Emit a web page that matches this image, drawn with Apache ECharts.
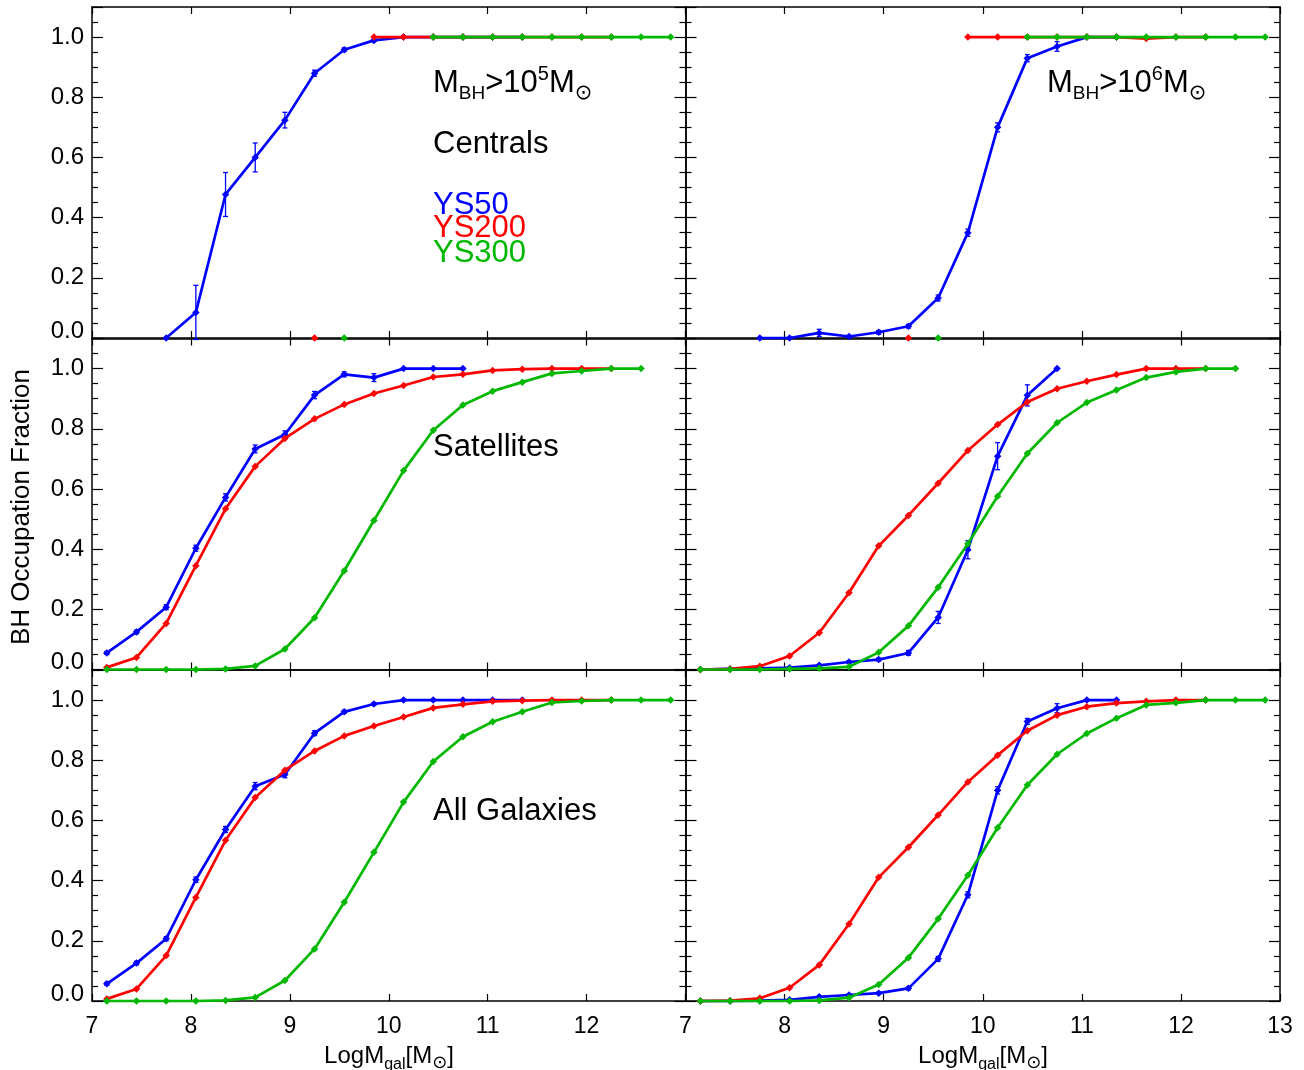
<!DOCTYPE html>
<html>
<head>
<meta charset="utf-8">
<script src="https://cdn.jsdelivr.net/npm/echarts@6/dist/echarts.min.js"></script>
<style>
html,body{margin:0;padding:0;background:#fff;}
#chart{width:1304px;height:1070px;}
</style>
</head>
<body>
<div id="chart"></div>
<script>
// ---------------- DATA ----------------
const logMgal = [7.15,7.45,7.75,8.05,8.35,8.65,8.95,9.25,9.55,9.85,10.15,10.45,10.75,11.05,11.35,11.65,11.95,12.25,12.55,12.85];

const xTickLabels = ['7','8','9','10','11','12','13'];
const yTickLabels = ['0.0','0.2','0.4','0.6','0.8','1.0'];

// Centrals, M_BH > 1e5
const ys50_cen_m5  = [null,null,0.0,0.085,0.477,0.600,0.724,0.880,0.958,0.989,1.0,1.0,1.0,1.0,1.0,null,null,null,null,null];
const err50_cen_m5 = [null,null,0,0.09,0.073,0.048,0.026,0.01,0.006,0.004,0,0,0,0,0,null,null,null,null,null];
const ys200_cen_m5 = [null,null,null,null,null,null,null,0.0,null,1.0,1.0,1.0,1.0,1.0,1.0,1.0,1.0,1.0,null,null];
const ys300_cen_m5 = [null,null,null,null,null,null,null,null,0.0,null,null,1.0,1.0,1.0,1.0,1.0,1.0,1.0,1.0,1.0];

// Centrals, M_BH > 1e6
const ys50_cen_m6  = [null,null,0.0,0.0,0.017,0.005,0.019,0.039,0.133,0.350,0.700,0.930,0.969,1.0,1.0,null,null,null,null,null];
const err50_cen_m6 = [null,null,0,0,0.012,0.004,0.006,0.006,0.01,0.012,0.015,0.012,0.016,0,0,null,null,null,null,null];
const ys200_cen_m6 = [null,null,null,null,null,null,null,0.0,null,1.0,1.0,1.0,1.0,1.0,1.0,0.995,1.0,1.0,null,null];
const ys300_cen_m6 = [null,null,null,null,null,null,null,null,0.0,null,null,1.0,1.0,1.0,1.0,1.0,1.0,1.0,1.0,1.0];

// Satellites, M_BH > 1e5
const ys50_sat_m5  = [0.055,0.125,0.207,0.403,0.572,0.733,0.781,0.912,0.981,0.970,1.0,1.0,1.0,null,null,null,null,null,null,null];
const err50_sat_m5 = [0.005,0.006,0.008,0.01,0.012,0.013,0.012,0.012,0.008,0.013,0,0,0,null,null,null,null,null,null,null];
const ys200_sat_m5 = [0.007,0.040,0.153,0.345,0.534,0.675,0.768,0.833,0.881,0.917,0.944,0.972,0.981,0.994,0.998,1.0,1.0,1.0,null,null];
const ys300_sat_m5 = [0.0,0.0,0.0,0.0,0.002,0.012,0.068,0.172,0.328,0.495,0.661,0.795,0.879,0.925,0.955,0.984,0.992,1.0,1.0,null];

// Satellites, M_BH > 1e6
const ys50_sat_m6  = [0.0,0.002,0.004,0.006,0.014,0.025,0.033,0.055,0.173,0.398,0.709,0.911,1.0,null,null,null,null,null,null,null];
const err50_sat_m6 = [0,0,0,0.002,0.003,0.004,0.005,0.008,0.02,0.03,0.045,0.035,0,null,null,null,null,null,null,null];
const ys200_sat_m6 = [0.0,0.002,0.011,0.045,0.122,0.255,0.411,0.512,0.619,0.728,0.814,0.889,0.933,0.958,0.980,1.0,1.0,1.0,null,null];
const ys300_sat_m6 = [0.0,0.0,0.0,0.002,0.004,0.009,0.057,0.145,0.273,0.418,0.576,0.718,0.820,0.887,0.929,0.970,0.989,1.0,1.0,null];

// All galaxies, M_BH > 1e5
const ys50_all_m5  = [0.057,0.126,0.207,0.403,0.570,0.714,0.753,0.890,0.961,0.987,1.0,1.0,1.0,1.0,1.0,null,null,null,null,null];
const err50_all_m5 = [0.005,0.006,0.007,0.009,0.01,0.012,0.011,0.008,0.005,0.004,0,0,0,0,0,null,null,null,null,null];
const ys200_all_m5 = [0.007,0.040,0.151,0.344,0.534,0.676,0.767,0.831,0.881,0.914,0.944,0.974,0.986,0.996,0.998,1.0,1.0,1.0,null,null];
const ys300_all_m5 = [0.0,0.0,0.0,0.0,0.002,0.012,0.068,0.173,0.328,0.494,0.661,0.796,0.878,0.928,0.961,0.992,0.997,1.0,1.0,1.0];

// All galaxies, M_BH > 1e6
const ys50_all_m6  = [0.0,0.0,0.001,0.004,0.014,0.020,0.026,0.042,0.140,0.353,0.700,0.929,0.973,1.0,1.0,null,null,null,null,null];
const err50_all_m6 = [0,0,0,0.002,0.003,0.003,0.004,0.005,0.008,0.01,0.012,0.01,0.015,0,0,null,null,null,null,null];
const ys200_all_m6 = [0.0,0.001,0.009,0.044,0.120,0.256,0.411,0.511,0.618,0.728,0.817,0.898,0.950,0.978,0.990,0.996,1.0,1.0,null,null];
const ys300_all_m6 = [0.0,0.0,0.0,0.0,0.002,0.011,0.055,0.144,0.273,0.418,0.576,0.718,0.820,0.889,0.940,0.984,0.991,1.0,1.0,1.0];

const seriesNames = ['YS50','YS200','YS300'];
const seriesColors = ['#0000ff','#ff0000','#00b800'];

// panels in row-major order
const panels = [
  {lines:[ys50_cen_m5, ys200_cen_m5, ys300_cen_m5], err: err50_cen_m5},
  {lines:[ys50_cen_m6, ys200_cen_m6, ys300_cen_m6], err: err50_cen_m6},
  {lines:[ys50_sat_m5, ys200_sat_m5, ys300_sat_m5], err: err50_sat_m5},
  {lines:[ys50_sat_m6, ys200_sat_m6, ys300_sat_m6], err: err50_sat_m6},
  {lines:[ys50_all_m5, ys200_all_m5, ys300_all_m5], err: err50_all_m5},
  {lines:[ys50_all_m6, ys200_all_m6, ys300_all_m6], err: err50_all_m6}
];

// ---------------- LAYOUT ----------------
const FONT = '"Liberation Sans", Arial, Helvetica, "DejaVu Sans", sans-serif';
const SYMFONT = '"DejaVu Sans", sans-serif';
const colLeft = [92, 685.5];
const colWidth = [593.5, 594.5];
const rowTop = [7, 338.5, 670];
const rowHeight = 331;

const grids = [], xAxes = [], yAxes = [], series = [];
const axisLineStyle = {color:'#000', width:1.5};

panels.forEach((p, g) => {
  const row = Math.floor(g / 2), col = g % 2;
  grids.push({left: colLeft[col], top: rowTop[row], width: colWidth[col], height: rowHeight,
              containLabel:false, outerBoundsMode:'none', show:false});
  const isBottom = row === 2, isLeft = col === 0;
  xAxes.push({
    type:'value', gridIndex:g, position:'bottom', min:7, max:13, interval:1,
    axisLine:{show:true, onZero:false, lineStyle:axisLineStyle},
    axisTick:{show:true, inside:true, length:7, lineStyle:{color:'#000', width:1.2}},
    splitLine:{show:false},
    axisLabel:{show:isBottom, margin:14, color:'#000', fontFamily:FONT, fontSize:23,
      formatter: v => { const i = xTickLabels.indexOf(String(v)); if (i < 0) return ''; if (col===0 && v===13) return ''; return xTickLabels[i]; }}
  });
  xAxes.push({
    type:'value', gridIndex:g, position:'top', min:7, max:13, interval:1,
    axisLine:{show:true, onZero:false, lineStyle:axisLineStyle},
    axisTick:{show:true, inside:true, length:7, lineStyle:{color:'#000', width:1.2}},
    splitLine:{show:false}, axisLabel:{show:false}
  });
  const yCommon = {
    type:'value', gridIndex:g, min:0, max:1.1, interval:0.2,
    axisLine:{show:true, onZero:false, lineStyle:axisLineStyle},
    axisTick:{show:true, inside:true, length:11, lineStyle:{color:'#000', width:1.2}},
    minorTick:{show:true, splitNumber:4, length:6, lineStyle:{color:'#000', width:1.2}},
    splitLine:{show:false}, minorSplitLine:{show:false}
  };
  yAxes.push(Object.assign({}, yCommon, {
    position:'left',
    axisLabel:{show:isLeft, margin:8, color:'#000', fontFamily:FONT, fontSize:24,
      formatter: v => {
        if (v > 1.05) return '';
        const idx = Math.round(v / 0.2);
        if (Math.abs(idx*0.2 - v) > 1e-6) return '';
        const t = yTickLabels[idx];
        return idx === 0 ? '{z|' + t + '}' : t;
      },
      rich:{z:{fontFamily:FONT, fontSize:24, color:'#000', padding:[0,0,14,0]}}
    }
  }));
  yAxes.push(Object.assign({}, yCommon, {position:'right', axisLabel:{show:false}}));

  p.lines.forEach((arr, k) => {
    const data = [];
    arr.forEach((v, i) => data.push([logMgal[i], v]));
    series.push({
      type:'line', name:seriesNames[k], xAxisIndex:2*g, yAxisIndex:2*g,
      data: data, connectNulls:false, clip:false,
      symbol:'diamond', symbolSize:7.5, showAllSymbol:true,
      lineStyle:{color:seriesColors[k], width:2.7},
      itemStyle:{color:seriesColors[k]},
      z: 3 + k, animation:false
    });
  });
  const errData = [];
  p.err.forEach((e, i) => { if (e && p.lines[0][i] != null) errData.push([logMgal[i], p.lines[0][i], e]); });
  series.push({
    type:'custom', xAxisIndex:2*g, yAxisIndex:2*g, data: errData, clip:false, z:3,
    renderItem: (params, api) => {
      const x = api.value(0), y = api.value(1), e = api.value(2);
      const lo = api.coord([x, y - e]), hi = api.coord([x, y + e]);
      const w = 2.5, st = {stroke:seriesColors[0], lineWidth:1.3};
      return {type:'group', children:[
        {type:'line', shape:{x1:lo[0], y1:lo[1], x2:hi[0], y2:hi[1]}, style:st},
        {type:'line', shape:{x1:lo[0]-w, y1:lo[1], x2:lo[0]+w, y2:lo[1]}, style:st},
        {type:'line', shape:{x1:hi[0]-w, y1:hi[1], x2:hi[0]+w, y2:hi[1]}, style:st}
      ]};
    }
  });
});

// ---------------- TEXT (rich pieces) ----------------
const measureCtx = document.createElement('canvas').getContext('2d');
function pieces(x0, baseline, parts, align) {
  const fontOf = p => p.size + 'px ' + (p.sym ? SYMFONT : FONT);
  const widths = parts.map(p => { measureCtx.font = fontOf(p); return measureCtx.measureText(p.t).width; });
  const total = widths.reduce((a, b) => a + b, 0);
  let x = align === 'center' ? x0 - total / 2 : x0;
  return parts.map((p, i) => {
    const el = {type:'text', x: x, y: baseline + (p.dy || 0) - 0.29 * p.size, silent:true, z:10,
      style:{text:p.t, font: fontOf(p), fill: p.color || '#000',
             align:'left', verticalAlign:'middle', textAlign:'left', textVerticalAlign:'middle'}};
    x += widths[i];
    return el;
  });
}
function mbh(x, exp) {
  return pieces(x, 92, [
    {t:'M', size:31}, {t:'BH', size:19, dy:7}, {t:'>10', size:31}, {t:exp, size:20, dy:-12},
    {t:'M', size:31}, {t:'\u2299', size:21, dy:8, sym:true}
  ], 'left');
}
function xTitle(cx) {
  return pieces(cx, 1063, [
    {t:'LogM', size:24}, {t:'gal', size:16, dy:6}, {t:'[M', size:24}, {t:'\u2299', size:18, dy:6, sym:true}, {t:']', size:24}
  ], 'center');
}
let graphics = [];
graphics = graphics.concat(mbh(433, '5'));
graphics = graphics.concat(mbh(1047, '6'));
graphics = graphics.concat(pieces(433, 153, [{t:'Centrals', size:31}], 'left'));
graphics = graphics.concat(pieces(433, 214, [{t:seriesNames[0], size:31, color:seriesColors[0]}], 'left'));
graphics = graphics.concat(pieces(433, 237.5, [{t:seriesNames[1], size:31, color:seriesColors[1]}], 'left'));
graphics = graphics.concat(pieces(433, 262, [{t:seriesNames[2], size:31, color:seriesColors[2]}], 'left'));
graphics = graphics.concat(pieces(433, 456.5, [{t:'Satellites', size:31}], 'left'));
graphics = graphics.concat(pieces(433, 820, [{t:'All Galaxies', size:31}], 'left'));
graphics = graphics.concat(xTitle(389));
graphics = graphics.concat(xTitle(983));
graphics.push({type:'text', x:22, y:507, rotation:Math.PI/2, silent:true,
  style:{text:'BH Occupation Fraction', font:'26px ' + FONT, fill:'#000',
         align:'center', verticalAlign:'middle', textAlign:'center', textVerticalAlign:'middle'}});

const chart = echarts.init(document.getElementById('chart'), null, {renderer:'canvas'});
chart.setOption({
  animation:false,
  backgroundColor:'#ffffff',
  grid: grids, xAxis: xAxes, yAxis: yAxes, series: series,
  graphic: {elements: graphics}
});
</script>
</body>
</html>
